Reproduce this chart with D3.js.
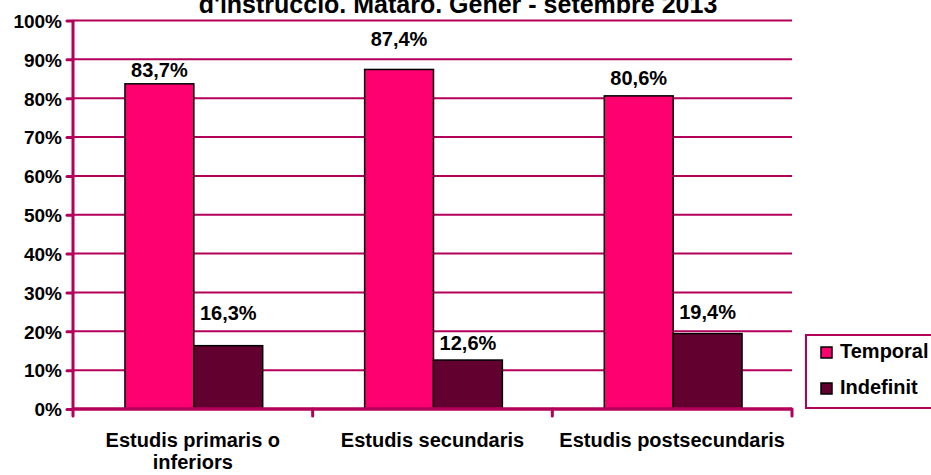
<!DOCTYPE html>
<html><head><meta charset="utf-8">
<script src="https://cdn.jsdelivr.net/npm/d3@7"></script>
<style>body{margin:0;background:#fff}svg{display:block}text{font-family:Arial,"Liberation Sans",sans-serif;font-weight:bold;fill:#000}</style>
</head><body><svg id="c" width="931" height="475"></svg>
<script>
const categories = ["Estudis primaris o inferiors", "Estudis secundaris", "Estudis postsecundaris"];
const series = ["Temporal", "Indefinit"];
const temporal = [0.837, 0.874, 0.806];
const indefinit = [0.163, 0.126, 0.194];
const yTicks = [0, 0.1, 0.2, 0.3, 0.4, 0.5, 0.6, 0.7, 0.8, 0.9, 1.0];
const title = "d'instrucció. Mataró. Gener - setembre 2013";

const colors = {Temporal: "#ff0070", Indefinit: "#620030"};
const gridColor = "#b3005a";
// label lift above bar top (px), mimicking the original placement
const labelLift = {Temporal: [7, 23, 11], Indefinit: [26, 10, 15]};

const svg = d3.select("#c");
const L = 73, R = 792, T = 20.5, B = 409;
const x0 = d3.scaleBand().domain(categories).range([L, R]).paddingInner(0).paddingOuter(0);
const x1 = d3.scaleBand().domain(series).range([0, x0.bandwidth()]).paddingInner(0).paddingOuter(0.74);
const y = d3.scaleLinear().domain([0, 1]).range([B, T]);
const fmt = v => d3.format(".1f")(v * 100).replace(".", ",") + "%";

// title (its upper part lies above the canvas in the reference)
svg.append("text").attr("x", 458).attr("y", 13).attr("text-anchor", "middle")
  .style("font-size", "25px").text(title);

// gridlines
svg.append("g").selectAll("line").data(yTicks.filter(d => d > 0)).join("line")
  .attr("x1", L).attr("x2", R).attr("y1", d => y(d)).attr("y2", d => y(d))
  .attr("stroke", gridColor).attr("stroke-width", 2);

// y axis
const yAxis = d3.axisLeft(y).tickValues(yTicks).tickSize(6).tickPadding(5)
  .tickFormat(d => Math.round(d * 100) + "%");
const gy = svg.append("g").attr("transform", `translate(${L},0)`).call(yAxis);
gy.select(".domain").remove();
gy.selectAll(".tick line").attr("stroke", gridColor).attr("stroke-width", 3).attr("stroke-linecap", "round");
gy.selectAll(".tick text").style("font-size", "19px").style("font-family", "Arial, 'Liberation Sans', sans-serif").style("font-weight", "bold").attr("fill", "#000").attr("dy", "0.36em");

// bars
const data = categories.map((c, i) => ({c, i, vals: [{s: "Temporal", v: temporal[i]}, {s: "Indefinit", v: indefinit[i]}]}));
const g = svg.append("g").selectAll("g").data(data).join("g")
  .attr("transform", d => `translate(${x0(d.c)},0)`);
g.selectAll("rect").data(d => d.vals.map(e => ({...e, i: d.i}))).join("rect")
  .attr("x", d => x1(d.s) + 1).attr("width", x1.bandwidth())
  .attr("y", d => y(d.v)).attr("height", d => y(0) - y(d.v))
  .attr("fill", d => colors[d.s]).attr("stroke", "#000").attr("stroke-width", 1.5);
g.selectAll("text.val").data(d => d.vals.map(e => ({...e, i: d.i}))).join("text")
  .attr("class", "val").attr("text-anchor", "middle")
  .attr("x", d => x1(d.s) + x1.bandwidth() / 2 + 1)
  .attr("y", d => y(d.v) - labelLift[d.s][d.i])
  .style("font-size", "20px").text(d => fmt(d.v));

// y axis line
svg.append("line").attr("x1", L).attr("x2", L).attr("y1", T).attr("y2", B)
  .attr("stroke", gridColor).attr("stroke-width", 3);

// x axis
const xAxis = d3.axisBottom(x0).tickSize(0).tickPadding(0).tickFormat("");
const gx = svg.append("g").attr("transform", `translate(0,${B})`).call(xAxis);
gx.select(".domain").remove();
svg.append("line").attr("x1", L).attr("x2", R).attr("y1", B).attr("y2", B)
  .attr("stroke", gridColor).attr("stroke-width", 3.5);
const boundaries = categories.map(c => x0(c)).concat([R]);
svg.append("g").selectAll("line").data(boundaries).join("line")
  .attr("x1", d => d).attr("x2", d => d).attr("y1", B).attr("y2", B + 7)
  .attr("stroke", gridColor).attr("stroke-width", 3).attr("stroke-linecap", "round");

// category labels (wrapped)
const wrapLines = {"Estudis primaris o inferiors": ["Estudis primaris o", "inferiors"]};
const cl = svg.append("g").selectAll("text").data(categories).join("text")
  .attr("text-anchor", "middle").attr("x", d => x0(d) + x0.bandwidth() / 2)
  .attr("y", 447).style("font-size", "20px");
cl.each(function(d) {
  const lines = wrapLines[d] || [d];
  d3.select(this).selectAll("tspan").data(lines).join("tspan")
    .attr("x", x0(d) + x0.bandwidth() / 2).attr("dy", (l, k) => k === 0 ? 0 : 22).text(l => l);
});

// legend
const lg = svg.append("g");
lg.append("rect").attr("x", 806).attr("y", 335).attr("width", 140).attr("height", 73)
  .attr("fill", "#fff").attr("stroke", gridColor).attr("stroke-width", 2);
const li = lg.selectAll("g").data(series).join("g")
  .attr("transform", (d, i) => `translate(821,${347 + i * 36})`);
li.append("rect").attr("width", 11).attr("height", 11).attr("fill", d => colors[d])
  .attr("stroke", "#000").attr("stroke-width", 1.5);
li.append("text").attr("x", 19).attr("y", 11).style("font-size", "20px").text(d => d);
</script></body></html>
